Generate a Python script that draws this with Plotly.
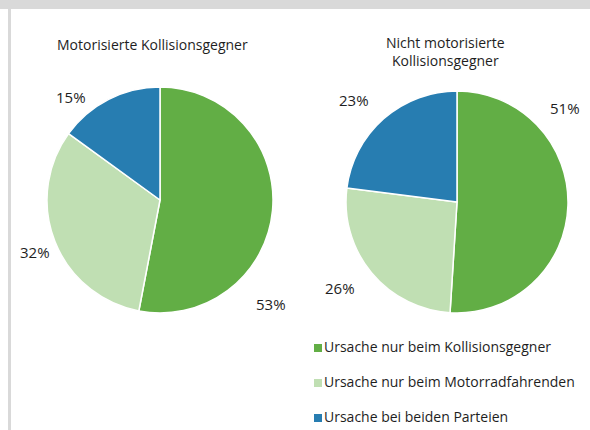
import plotly.graph_objects as go

categories = ["Ursache nur beim Kollisionsgegner",
              "Ursache nur beim Motorradfahrenden",
              "Ursache bei beiden Parteien"]
motorisiert = [53, 32, 15]
nicht_motorisiert = [51, 26, 23]
titles = ["Motorisierte Kollisionsgegner", "Nicht motorisierte<br>Kollisionsgegner"]
colors = ["#62ae45", "#c0dfb3", "#277db1"]

W, H = 590, 430
FONT = "Open Sans"
TXT = "#1e1e1e"

def px(x):
    return x / W

def py(y):
    return 1 - y / H

fig = go.Figure()

pie_domains = [
    dict(x=[px(47), px(273)], y=[py(313), py(87)]),
    dict(x=[px(346), px(568)], y=[py(313), py(91)]),
]
for vals, dom in zip([motorisiert, nicht_motorisiert], pie_domains):
    fig.add_trace(go.Pie(
        labels=categories, values=vals, sort=False, direction="clockwise",
        rotation=0, domain=dom, textinfo="none", hoverinfo="label+percent",
        marker=dict(colors=colors, line=dict(color="white", width=1.5)),
        showlegend=False,
    ))

# legend entries drawn as a small marker + text series
fig.add_trace(go.Scatter(
    x=[0] * len(categories), y=list(range(len(categories))),
    mode="markers+text", text=categories, textposition="middle right",
    textfont=dict(family=FONT, size=14, color=TXT),
    marker=dict(symbol="square", size=8, color=colors),
    hoverinfo="skip", showlegend=False, cliponaxis=False,
))

# percentage labels
label_pos = [
    [(271, 304), (35, 252), (71, 97)],
    [(565, 108), (340, 288), (354, 100)],
]
annotations = []
for vals, poss in zip([motorisiert, nicht_motorisiert], label_pos):
    for v, (x, y) in zip(vals, poss):
        annotations.append(dict(
            x=px(x), y=py(y), xref="paper", yref="paper", text=f"{v}%",
            showarrow=False, xanchor="center", yanchor="middle",
            font=dict(family=FONT, size=15, color=TXT)))

annotations.append(dict(x=px(152), y=py(44), xref="paper", yref="paper",
                        text=titles[0], showarrow=False, xanchor="center",
                        yanchor="middle", font=dict(family=FONT, size=14, color=TXT)))
annotations.append(dict(x=px(445), y=py(51), xref="paper", yref="paper",
                        text=titles[1], showarrow=False, xanchor="center",
                        yanchor="middle", font=dict(family=FONT, size=14, color=TXT)))

shapes = [
    dict(type="rect", xref="paper", yref="paper", x0=0, x1=1, y0=py(9), y1=1,
         fillcolor="#d9d9d9", line=dict(width=0), layer="above"),
    dict(type="rect", xref="paper", yref="paper", x0=px(8), x1=px(11), y0=0, y1=1,
         fillcolor="#d9d9d9", line=dict(width=0), layer="above"),
]

# hidden axis for the legend series: 1 x-unit = 1 px, marker at x pixel 318
leg_top, leg_bot = 330, 430
y0_px, step = 348, 35
fig.update_layout(
    width=W, height=H,
    margin=dict(l=0, r=0, t=0, b=0),
    paper_bgcolor="white", plot_bgcolor="rgba(0,0,0,0)",
    xaxis=dict(visible=False, domain=[px(300), 1], range=[-18, 272], fixedrange=True),
    yaxis=dict(visible=False, domain=[py(leg_bot), py(leg_top)],
               range=[(leg_bot - y0_px) / step, (leg_top - y0_px) / step],
               fixedrange=True),
    annotations=annotations, shapes=shapes,
    showlegend=False,
)

fig.write_html("out.html", config={"displayModeBar": False},
               post_script="document.body.style.margin='0px';document.body.style.overflow='hidden';")
